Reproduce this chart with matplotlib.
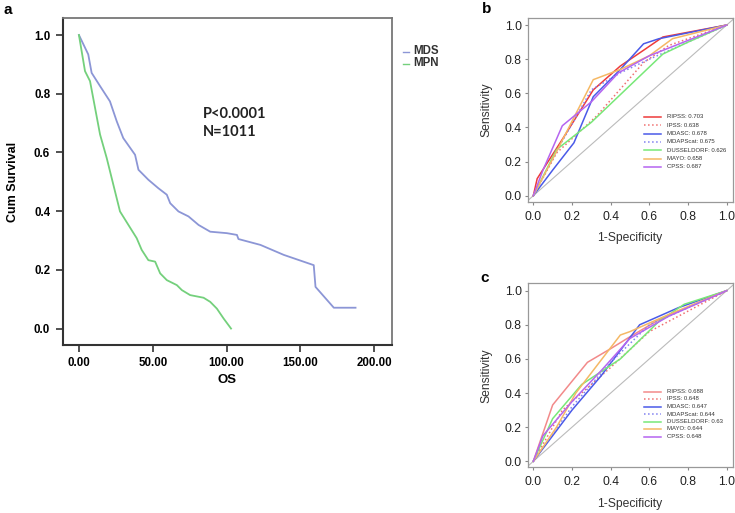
import matplotlib
matplotlib.use('Agg')
import matplotlib.pyplot as plt
import numpy as np

W, H = 735, 513

# Panel a: Kaplan-Meier survival (OS, months)
mds_os = [0, 6.3, 8.6, 14.3, 21, 25.6, 30, 38, 40.3, 47, 53.8, 59.5, 61.8, 67.4, 74.2, 81,
          88.9, 100.2, 107, 108, 122.9, 138.7, 159, 160.2, 172.6, 187.3]
mds_surv = [1.0, 0.934, 0.871, 0.826, 0.774, 0.706, 0.649, 0.592, 0.541, 0.507, 0.478, 0.456,
            0.427, 0.399, 0.382, 0.353, 0.330, 0.325, 0.319, 0.305, 0.285, 0.251, 0.216,
            0.142, 0.071, 0.071]
mpn_os = [0, 4.1, 7.5, 10.9, 14.3, 18.8, 23.3, 27.8, 33.5, 39.1, 42.5, 47, 51.6, 55, 59.5,
          66.3, 69.7, 75.3, 84.4, 88.9, 93.4, 98, 103]
mpn_surv = [1.0, 0.877, 0.843, 0.752, 0.661, 0.581, 0.490, 0.399, 0.353, 0.308, 0.268, 0.233,
            0.228, 0.188, 0.165, 0.148, 0.131, 0.114, 0.105, 0.091, 0.068, 0.034, 0.0]

# Panels b and c: ROC curves
models = ['RIPSS', 'IPSS', 'MDASC', 'MDAPScat', 'DUSSELDORF', 'MAYO', 'CPSS']
auc_b = ['0.703', '0.638', '0.678', '0.675', '0.626', '0.658', '0.687']
auc_c = ['0.688', '0.648', '0.647', '0.644', '0.63', '0.644', '0.648']

roc_b = {
    'RIPSS': ([0, 0.02, 0.15, 0.31, 0.45, 0.58, 0.67, 1], [0, 0.1, 0.33, 0.62, 0.76, 0.86, 0.93, 1]),
    'IPSS': ([0, 0.12, 0.33, 0.57, 0.7, 1], [0, 0.25, 0.47, 0.78, 0.88, 1]),
    'MDASC': ([0, 0.1, 0.21, 0.31, 0.45, 0.57, 0.65, 1], [0, 0.15, 0.31, 0.58, 0.74, 0.89, 0.92, 1]),
    'MDAPScat': ([0, 0.15, 0.3, 0.45, 0.6, 1], [0, 0.32, 0.62, 0.72, 0.8, 1]),
    'DUSSELDORF': ([0, 0.12, 0.3, 0.67, 0.8, 1], [0, 0.27, 0.43, 0.83, 0.9, 1]),
    'MAYO': ([0, 0.13, 0.31, 0.45, 0.6, 0.72, 1], [0, 0.28, 0.68, 0.74, 0.82, 0.92, 1]),
    'CPSS': ([0, 0.05, 0.15, 0.3, 0.44, 0.6, 1], [0, 0.15, 0.41, 0.55, 0.72, 0.82, 1]),
}
roc_c = {
    'RIPSS': ([0, 0.1, 0.28, 0.4, 0.5, 0.65, 1], [0, 0.33, 0.58, 0.66, 0.73, 0.83, 1]),
    'IPSS': ([0, 0.15, 0.4, 0.6, 1], [0, 0.3, 0.55, 0.76, 1]),
    'MDASC': ([0, 0.2, 0.35, 0.55, 0.75, 1], [0, 0.3, 0.5, 0.8, 0.9, 1]),
    'MDAPScat': ([0, 0.2, 0.4, 0.6, 1], [0, 0.32, 0.58, 0.8, 1]),
    'DUSSELDORF': ([0, 0.1, 0.25, 0.45, 0.65, 0.78, 1], [0, 0.25, 0.45, 0.6, 0.82, 0.92, 1]),
    'MAYO': ([0, 0.12, 0.22, 0.45, 0.5, 0.7, 1], [0, 0.2, 0.4, 0.74, 0.76, 0.86, 1]),
    'CPSS': ([0, 0.05, 0.2, 0.35, 0.5, 0.7, 1], [0, 0.15, 0.35, 0.53, 0.72, 0.85, 1]),
}

styles_b = {
    'RIPSS': ('#ee3b3b', '-'), 'IPSS': ('#f07070', ':'), 'MDASC': ('#4a5ae8', '-'),
    'MDAPScat': ('#8080f0', ':'), 'DUSSELDORF': ('#78e878', '-'), 'MAYO': ('#f5b865', '-'),
    'CPSS': ('#b565f0', '-'),
}
styles_c = dict(styles_b)
styles_c['RIPSS'] = ('#f28a8a', '-')


def px_rect(left, top, right, bottom):
    return [left / W, (H - bottom) / H, (right - left) / W, (bottom - top) / H]


fig = plt.figure(figsize=(W / 100, H / 100), dpi=100)
plt.rcParams['font.family'] = ['Liberation Sans', 'DejaVu Sans']

# ---- panel a
ax = fig.add_axes(px_rect(62.7, 18, 392, 345))
ax.plot(mds_os, mds_surv, color='#8c96d6', lw=1.3)
ax.plot(mpn_os, mpn_surv, color='#74d07c', lw=1.3)
ax.set_xlim(-11, 212)
ax.set_ylim(-0.056, 1.058)
ax.set_xticks([0, 50, 100, 150, 200])
ax.set_xticklabels(['0.00', '50.00', '100.00', '150.00', '200.00'])
ax.set_yticks([0, 0.2, 0.4, 0.6, 0.8, 1.0])
ax.set_yticklabels(['0.0', '0.2', '0.4', '0.6', '0.8', '1.0'])
ax.tick_params(direction='out', length=5, width=1.2, color='#333333', labelsize=8.3, pad=4)
for lab in ax.get_xticklabels() + ax.get_yticklabels():
    lab.set_fontweight('bold')
for side in ['left', 'bottom']:
    ax.spines[side].set_color('#333333')
    ax.spines[side].set_linewidth(1.5)
for side in ['top', 'right']:
    ax.spines[side].set_color('#777777')
    ax.spines[side].set_linewidth(1.3)
ax.set_ylabel('Cum Survival', fontsize=9, fontweight='bold', labelpad=11)
ax.set_xlabel('OS', fontsize=9.5, fontweight='bold', labelpad=3)
ax.text(84, 0.70, 'P<0.0001\nN=1011', fontsize=10.5, fontweight='bold', family='Lato',
        linespacing=1.35, va='center', color='#222222')

# legend for panel a (outside frame)
for i, (name, col) in enumerate([('MDS', '#8c96d6'), ('MPN', '#74d07c')]):
    yy = 1 - (51.5 + 12 * i) / H
    fig.add_artist(plt.Line2D([403 / W, 409 / W], [yy, yy], color=col, lw=1.0))
    fig.text(413 / W, yy, name, fontsize=8.3, fontweight='bold', va='center', color='#333333')

# ---- panels b and c
def roc_panel(rect, roc, aucs, styles, leg_top, leg_step):
    axr = fig.add_axes(rect)
    axr.plot([-0.1, 1.1], [-0.1, 1.1], color='#bbbbbb', lw=0.8)
    for name, auc in zip(models, aucs):
        xs, ys = roc[name]
        col, ls = styles[name]
        axr.plot(xs, ys, color=col, ls=ls, lw=1.1)
    axr.set_xlim(-0.03, 1.03)
    axr.set_ylim(-0.035, 1.043)
    axr.set_xticks(np.arange(0, 1.01, 0.2))
    axr.set_yticks(np.arange(0, 1.01, 0.2))
    axr.set_xticklabels(['0.0', '0.2', '0.4', '0.6', '0.8', '1.0'])
    axr.set_yticklabels(['0.0', '0.2', '0.4', '0.6', '0.8', '1.0'])
    axr.tick_params(direction='out', length=2.5, width=0.8, color='#888888', labelsize=8.7,
                    labelcolor='#222222', pad=1.5)
    axr.tick_params(axis='x', pad=4)
    for sp in axr.spines.values():
        sp.set_color('#999999')
        sp.set_linewidth(0.9)
    axr.set_xlabel('1-Specificity', fontsize=8.7, color='#333333', labelpad=7)
    axr.set_ylabel('Sensitivity', fontsize=8.7, color='#333333', labelpad=9)
    # small legend inside
    for i, (name, auc) in enumerate(zip(models, aucs)):
        col, ls = styles[name]
        yy = 1 - (leg_top + leg_step * i) / H
        fig.add_artist(plt.Line2D([644 / W, 661 / W], [yy, yy], color=col, ls=ls, lw=1.1))
        fig.text(667 / W, yy, f'{name}: {auc}', fontsize=4.3, va='center', color='#333333')
    return axr


roc_panel(px_rect(527.5, 17.7, 732.5, 201.7), roc_b, auc_b, styles_b, 117, 8.3)
roc_panel(px_rect(527.5, 283.3, 732.5, 467.3), roc_c, auc_c, styles_c, 391.5, 7.5)

# panel letters
for letter, (x, y) in zip('abc', [(8, 10), (487, 9), (485, 278)]):
    fig.text(x / W, 1 - y / H, letter, fontsize=11, fontweight='bold', ha='center', va='center')

fig.savefig('out.png', dpi=100)
